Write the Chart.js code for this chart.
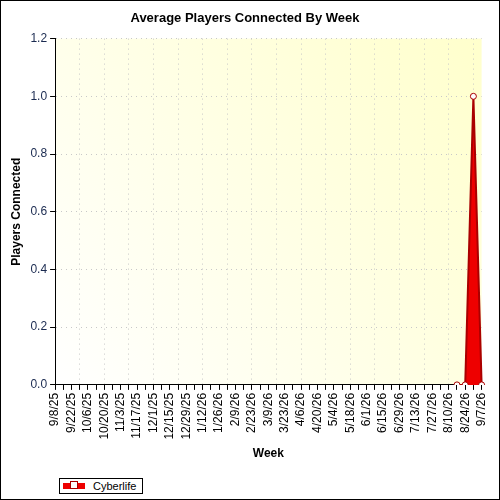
<!DOCTYPE html>
<html><head><script src="https://cdn.jsdelivr.net/npm/chart.js"></script>
<style>
body{margin:0;background:#fff;}
#wrap{position:relative;width:498px;height:498px;border:1px solid #000;}
#legend{position:absolute;left:58px;top:477px;width:82px;height:14px;border:1px solid #000;font:11px Arial,"Liberation Sans";display:flex;align-items:center;background:#fff;}
#legend span.sw{display:inline-block;width:22px;height:6px;background:#e00;margin:0 8px 0 3px;position:relative;}
#legend span.sw i{position:absolute;left:7px;top:-2px;width:6px;height:6px;background:#fff;border:1px solid #a00;}
</style></head><body>
<div id="wrap"><canvas id="c" width="498" height="498"></canvas>
<div id="legend"><span class="sw"><i></i></span>Cyberlife</div></div>
<script>
const weeks=["9/8/25","9/15/25","9/22/25","9/29/25","10/6/25","10/13/25","10/20/25","10/27/25","11/3/25","11/10/25","11/17/25","11/24/25","12/1/25","12/8/25","12/15/25","12/22/25","12/29/25","1/5/26","1/12/26","1/19/26","1/26/26","2/2/26","2/9/26","2/16/26","2/23/26","3/2/26","3/9/26","3/16/26","3/23/26","3/30/26","4/6/26","4/13/26","4/20/26","4/27/26","5/4/26","5/11/26","5/18/26","5/25/26","6/1/26","6/8/26","6/15/26","6/22/26","6/29/26","7/6/26","7/13/26","7/20/26","7/27/26","8/3/26","8/10/26","8/17/26","8/24/26","8/31/26","9/7/26"];
const cyberlife=[null,null,null,null,null,null,null,null,null,null,null,null,null,null,null,null,null,null,null,null,null,null,null,null,null,null,null,null,null,null,null,null,null,null,null,null,null,null,null,null,null,null,null,null,null,null,null,null,null,0,0,1.0,0];
const yTicks=[0,0.2,0.4,0.6,0.8,1.0,1.2];
const bg={id:'bg',beforeDraw(ch){const a=ch.chartArea,x=ch.ctx;const g=x.createLinearGradient(a.left,a.bottom,a.right,a.top);g.addColorStop(0,'#ffffff');g.addColorStop(1,'#ffffcc');x.save();x.fillStyle=g;x.fillRect(a.left,a.top,a.right-a.left,a.bottom-a.top);x.restore();}};
const F='Arial, "Liberation Sans"';
new Chart(document.getElementById('c'),{type:'line',plugins:[bg],
data:{labels:weeks,datasets:[{label:'Cyberlife',data:cyberlife,fill:'origin',backgroundColor:'#ee0000',borderColor:'#aa0000',borderWidth:2,tension:0,pointRadius:3,pointBackgroundColor:'#fff',pointBorderColor:'#aa0000',pointBorderWidth:1}]},
options:{responsive:false,animation:false,layout:{padding:{left:4,right:14,top:2,bottom:34}},
plugins:{legend:{display:false},tooltip:{enabled:false},title:{display:true,text:'Average Players Connected By Week',color:'#000',font:{family:F,size:13,weight:'bold'},padding:{top:8,bottom:12}}},
scales:{x:{offset:false,grid:{color:c=>c.index%3===0?'#c8c8c8':'rgba(0,0,0,0)',tickColor:'#000',tickLength:5},border:{color:'#000',width:1,dash:[1,4]},
ticks:{autoSkip:false,maxRotation:90,minRotation:90,color:'#000',font:{family:F,size:12},callback:(v,i)=>i%2===0?weeks[i]:''},
title:{display:true,text:'Week',color:'#000',font:{family:F,size:12,weight:'bold'}}},
y:{min:0,max:1.2,afterBuildTicks:s=>{s.ticks=yTicks.map(v=>({value:v}));},grid:{color:'#c8c8c8',tickColor:'#000',tickLength:5},border:{color:'#000',dash:[1,4]},
ticks:{color:'#1a2a50',font:{family:F,size:12},callback:v=>v.toFixed(1)},
title:{display:true,text:'Players Connected',color:'#000',font:{family:F,size:12,weight:'bold'}}}}}});
</script></body></html>
